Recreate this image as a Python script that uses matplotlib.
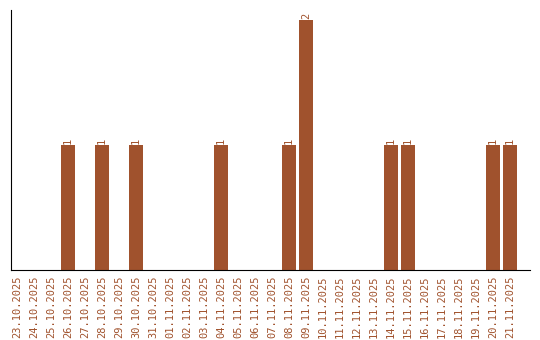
import numpy as np
import matplotlib
matplotlib.use('Agg')
import matplotlib.pyplot as plt
from datetime import date, timedelta

# даты с 23.10.2025 по 21.11.2025
start = date(2025, 10, 23)
days = [start + timedelta(days=i) for i in range(30)]
labels = [d.strftime('%d.%m.%Y') for d in days]

counts = {
    '26.10.2025': 1, '28.10.2025': 1, '30.10.2025': 1, '04.11.2025': 1,
    '08.11.2025': 1, '09.11.2025': 2, '14.11.2025': 1, '15.11.2025': 1,
    '20.11.2025': 1, '21.11.2025': 1,
}
values = [counts.get(l, 0) for l in labels]

color = '#A0522D'
fig = plt.figure(figsize=(5.4, 3.4), dpi=100)
ax = fig.add_axes([11/540, 70/340, 519/540, 260/340])

x = np.arange(len(labels))
bars = ax.bar(x, values, width=0.82, color=color)
for xi, v in zip(x, values):
    if v > 0:
        ax.text(xi, v + 0.01, str(v), rotation=90, ha='center', va='bottom',
                fontsize=7.5, family='DejaVu Sans Mono', color=color)

ax.set_xlim(-0.35, 30.18)
ax.set_ylim(0, 2.08)
ax.set_xticks(x)
ax.set_xticklabels(labels, rotation=90, fontsize=7.5, family='DejaVu Sans Mono', color=color)
ax.tick_params(axis='x', length=0, pad=4)
ax.set_yticks([])
ax.spines['top'].set_visible(False)
ax.spines['right'].set_visible(False)

fig.savefig('out.png', dpi=100)
